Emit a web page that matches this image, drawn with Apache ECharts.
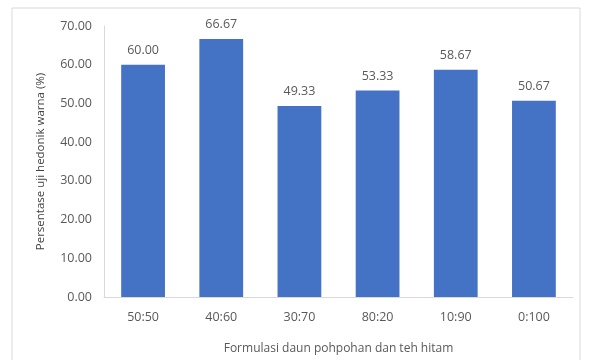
<!DOCTYPE html>
<html>
<head>
<meta charset="utf-8">
<script src="https://cdn.jsdelivr.net/npm/echarts@6/dist/echarts.min.js"></script>
<style>
  html, body { margin: 0; padding: 0; background: #fff; }
  #chart { width: 592px; height: 360px; }
</style>
</head>
<body>
<div id="chart"></div>
<script>
const categories = ['50:50', '40:60', '30:70', '80:20', '10:90', '0:100'];
const values = [60.00, 66.67, 49.33, 53.33, 58.67, 50.67];
const yTicks = [0, 10, 20, 30, 40, 50, 60, 70];

const textColor = '#595959';
const font = 'Open Sans';

const chart = echarts.init(document.getElementById('chart'));
chart.setOption({
    animation: false,
    graphic: [{
        type: 'rect',
        shape: { x: 12, y: 8, width: 568, height: 360 },
        style: { fill: 'none', stroke: '#d9d9d9', lineWidth: 1 }
    }],
    grid: { left: 104, right: 19, top: 26, bottom: 60 },
    xAxis: {
        type: 'category',
        data: categories,
        name: 'Formulasi daun pohpohan dan teh hitam',
        nameLocation: 'middle',
        nameGap: 46,
        nameTextStyle: { color: textColor, fontSize: 12, fontFamily: font },
        axisLine: { lineStyle: { color: '#d9d9d9' } },
        axisTick: { show: false },
        axisLabel: { color: textColor, fontSize: 12.5, fontFamily: font, margin: 14 }
    },
    yAxis: {
        type: 'value',
        min: yTicks[0],
        max: yTicks[yTicks.length - 1],
        interval: 10,
        name: 'Persentase uji hedonik warna (%)',
        nameLocation: 'middle',
        nameGap: 57,
        nameTextStyle: { color: '#404040', fontSize: 11.5, fontFamily: font },
        axisLine: { show: true, lineStyle: { color: '#d9d9d9' } },
        axisTick: { show: false },
        splitLine: { show: false },
        axisLabel: {
            color: textColor, fontSize: 12.5, fontFamily: font, margin: 12,
            formatter: v => v.toFixed(2)
        }
    },
    series: [{
        type: 'bar',
        data: values,
        barWidth: '56%',
        itemStyle: { color: '#4472C4' },
        label: {
            show: true,
            position: 'top',
            distance: 8,
            color: textColor,
            fontSize: 12.5,
            fontFamily: font,
            formatter: p => p.value.toFixed(2)
        }
    }]
});
</script>
</body>
</html>
